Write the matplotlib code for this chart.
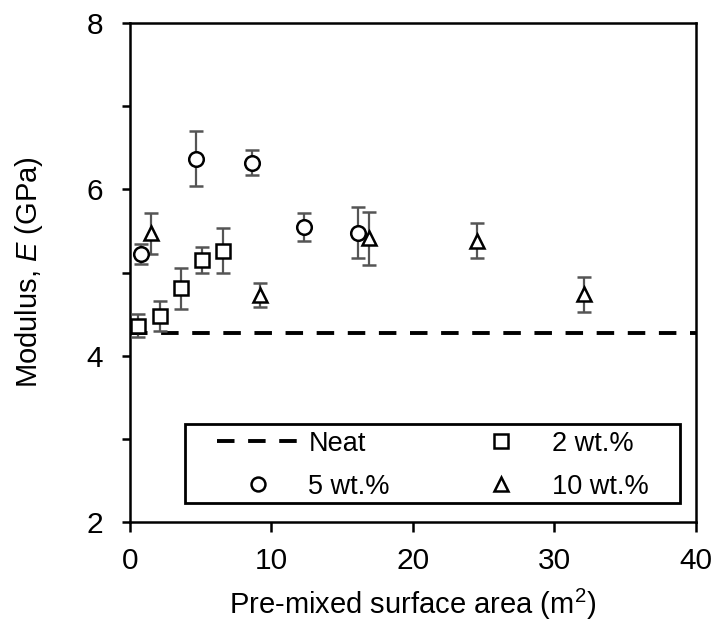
import matplotlib
matplotlib.use('Agg')
import matplotlib.pyplot as plt
from matplotlib.patches import Rectangle

plt.rcParams['font.family'] = ['Liberation Sans', 'DejaVu Sans']
plt.rcParams['mathtext.fontset'] = 'custom'
plt.rcParams['mathtext.rm'] = 'Liberation Sans'
plt.rcParams['mathtext.it'] = 'Liberation Sans:italic'

# modulus data
neat_E = 4.27

x_2wt = [0.6, 2.1, 3.6, 5.1, 6.6]
E_2wt = [4.36, 4.48, 4.81, 5.15, 5.26]
err_2wt = [0.14, 0.18, 0.25, 0.16, 0.27]

x_5wt = [0.8, 4.7, 8.6, 12.3, 16.1]
E_5wt = [5.22, 6.37, 6.32, 5.55, 5.48]
err_5wt = [0.12, 0.33, 0.15, 0.17, 0.31]

x_10wt = [1.5, 9.2, 16.9, 24.5, 32.1]
E_10wt = [5.47, 4.73, 5.41, 5.38, 4.74]
err_10wt = [0.25, 0.14, 0.32, 0.21, 0.21]

grey = '#555555'

fig = plt.figure(figsize=(7.17, 6.25), dpi=100)
ax = fig.add_axes([0.1813, 0.1653, 0.7894, 0.7974])

neat_line, = ax.plot([0, 40], [neat_E, neat_E], color='black', lw=2.8,
                     dashes=(4.5, 3.5), label='Neat')

def series(x, y, e, marker, label):
    h = ax.errorbar(x, y, yerr=e, fmt=marker, ms=10.5, mfc='white', mec='black',
                    mew=1.8, ecolor=grey, elinewidth=1.6, capsize=5, capthick=1.6,
                    label=label, zorder=3)
    return h

h2 = series(x_2wt, E_2wt, err_2wt, 's', '2 wt.%')
h5 = series(x_5wt, E_5wt, err_5wt, 'o', '5 wt.%')
h10 = series(x_10wt, E_10wt, err_10wt, '^', '10 wt.%')

ax.set_xlim(0, 40)
ax.set_ylim(2, 8)
ax.set_xticks([0, 10, 20, 30, 40])
ax.set_yticks([2, 4, 6, 8])
ax.set_yticks([3, 5, 7], minor=True)
ax.tick_params(axis='both', which='both', direction='out', width=1.8, labelsize=21.5)
ax.tick_params(axis='x', length=7, pad=11.5)
ax.tick_params(axis='y', which='both', length=6, pad=13.5)
ax.tick_params(top=False, right=False)
for s in ax.spines.values():
    s.set_linewidth(1.8)

ax.set_xlabel('Pre-mixed surface area (m$^2$)', fontsize=21, labelpad=8)
ax.set_ylabel('Modulus, $\\mathit{E}$ (GPa)', fontsize=21, labelpad=30)

# legend handles without the error bars
l2 = ax.plot([], [], 's', ms=10.5, mfc='white', mec='black', mew=1.8)[0]
l5 = ax.plot([], [], 'o', ms=10, mfc='white', mec='black', mew=1.8)[0]
l10 = ax.plot([], [], '^', ms=10, mfc='white', mec='black', mew=1.8)[0]

# legend frame drawn as its own box, entries placed inside
box = Rectangle((0.0972, 0.038), 0.8745, 0.159, transform=ax.transAxes,
                facecolor='white', edgecolor='black', lw=2.0, zorder=4)
ax.add_patch(box)
leg = ax.legend([neat_line, l5, l2, l10], ['Neat', '5 wt.%', '2 wt.%', '10 wt.%'],
                ncol=2, loc='center', bbox_to_anchor=(0.535, 0.113),
                frameon=False, borderpad=0, fontsize=19.5, handlelength=3.0,
                handletextpad=0.37, labelspacing=0.62, columnspacing=2.6)
leg.set_zorder(5)

fig.savefig('out.png', dpi=100)
